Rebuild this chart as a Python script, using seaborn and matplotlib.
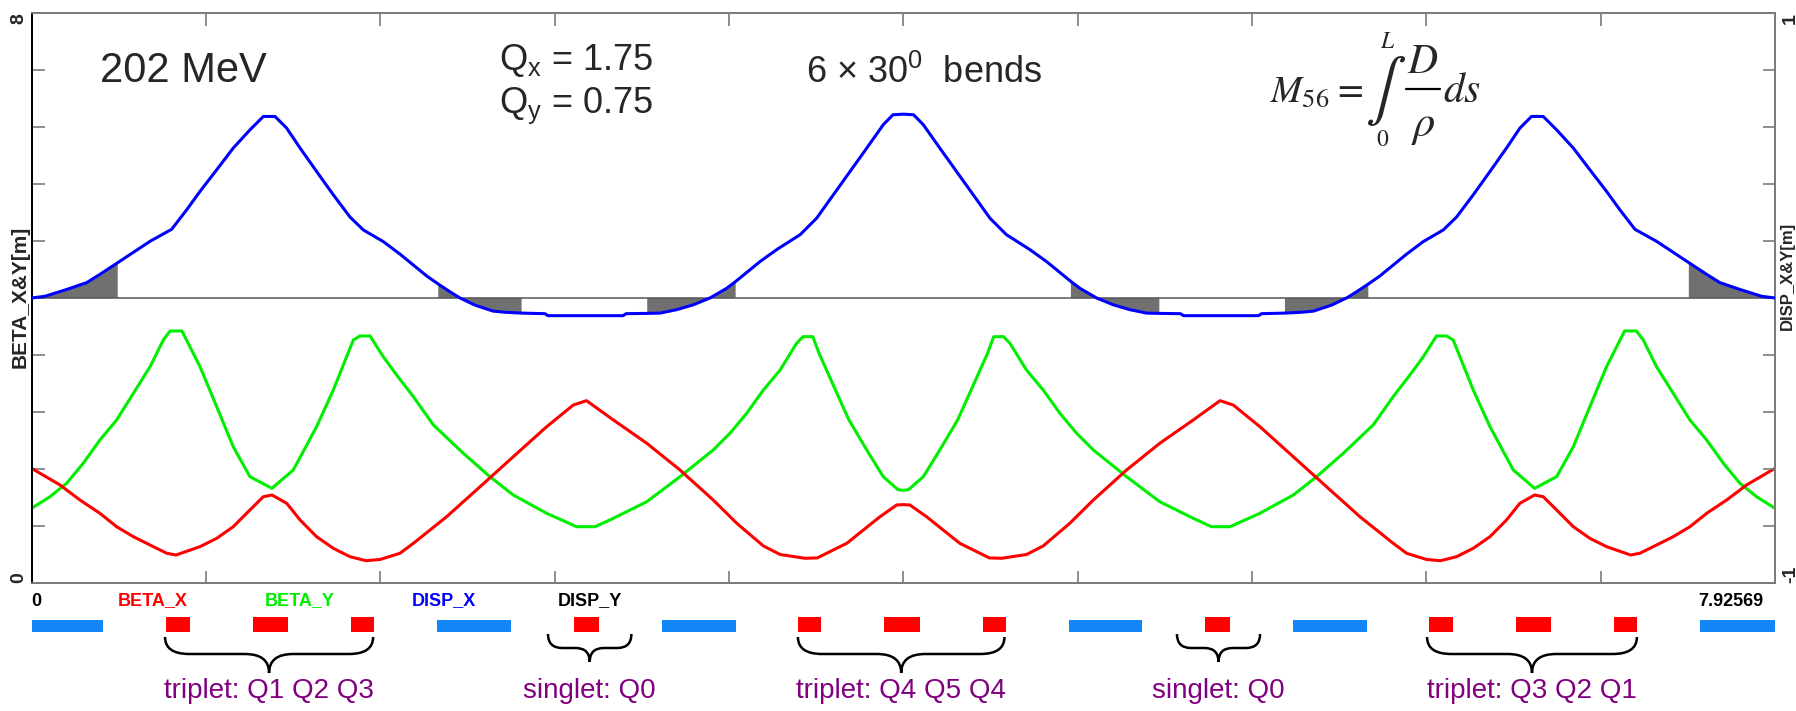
import numpy as np
import matplotlib
matplotlib.use("Agg")
import matplotlib.pyplot as plt
import seaborn as sns
from matplotlib.path import Path
from matplotlib.patches import PathPatch
from matplotlib.lines import Line2D

# ---------------- data ----------------
L_TOTAL = 7.92569

S_DISP = [0.000, 0.061, 0.160, 0.251, 0.311, 0.392, 0.539, 0.637, 0.706, 0.766, 0.842, 0.917,
          0.993, 1.054, 1.107, 1.160, 1.221, 1.296, 1.372, 1.448, 1.508, 1.599, 1.675, 1.797,
          1.849, 1.902, 1.948, 2.016, 2.098, 2.152, 2.228, 2.334, 2.348, 2.689, 2.703, 2.799,
          2.857, 2.933, 3.008, 3.084, 3.160, 3.201, 3.312, 3.388, 3.463, 3.494, 3.569, 3.645,
          3.721, 3.797, 3.872, 3.916, 3.963,
          4.010, 4.054, 4.129, 4.205, 4.281, 4.357, 4.432, 4.463, 4.538, 4.614, 4.725, 4.766,
          4.842, 4.918, 4.993, 5.069, 5.127, 5.223, 5.237, 5.578, 5.592, 5.698, 5.774, 5.828,
          5.910, 5.978, 6.024, 6.077, 6.129, 6.251, 6.327, 6.418, 6.478, 6.554, 6.630, 6.705,
          6.766, 6.819, 6.872, 6.933, 7.009, 7.084, 7.160, 7.220, 7.289, 7.387, 7.534, 7.615,
          7.675, 7.766, 7.865, 7.926]
DISP_X = [0.000, 0.006, 0.030, 0.054, 0.083, 0.124, 0.199, 0.241, 0.310, 0.374, 0.450, 0.526,
          0.590, 0.637, 0.637, 0.596, 0.526, 0.444, 0.362, 0.284, 0.239, 0.198, 0.154, 0.077,
          0.049, 0.022, 0.000, -0.025, -0.046, -0.050, -0.053, -0.055, -0.062, -0.062, -0.055, -0.054,
          -0.053, -0.041, -0.024, 0.000, 0.034, 0.058, 0.128, 0.170, 0.207, 0.222, 0.280, 0.362,
          0.444, 0.526, 0.608, 0.643, 0.645,
          0.643, 0.608, 0.526, 0.444, 0.362, 0.280, 0.222, 0.207, 0.170, 0.128, 0.058, 0.034,
          0.000, -0.024, -0.041, -0.053, -0.054, -0.055, -0.062, -0.062, -0.055, -0.053, -0.050, -0.046,
          -0.025, 0.000, 0.022, 0.049, 0.077, 0.154, 0.198, 0.239, 0.284, 0.362, 0.444, 0.526,
          0.596, 0.637, 0.637, 0.590, 0.526, 0.450, 0.374, 0.310, 0.241, 0.199, 0.124, 0.083,
          0.054, 0.030, 0.006, 0.000]

S_DISP_Y = [0.0, L_TOTAL]
DISP_Y = [0.0, 0.0]

S_BX = [0.000, 0.130, 0.220, 0.311, 0.387, 0.463, 0.539, 0.615, 0.657, 0.766, 0.842, 0.917,
        0.993, 1.054, 1.093, 1.160, 1.221, 1.296, 1.372, 1.448, 1.521, 1.584, 1.675, 1.736,
        1.887, 2.039, 2.190, 2.342, 2.463, 2.523, 2.645, 2.797, 2.948, 3.099, 3.206, 3.327,
        3.403, 3.516, 3.572, 3.706, 3.857, 3.933, 3.963,
        3.993, 4.069, 4.220, 4.354, 4.410, 4.523, 4.599, 4.720, 4.827, 4.978, 5.129, 5.281,
        5.403, 5.463, 5.584, 5.736, 5.887, 6.039, 6.190, 6.251, 6.342, 6.405, 6.478, 6.554,
        6.630, 6.705, 6.766, 6.833, 6.872, 6.933, 7.009, 7.084, 7.160, 7.269, 7.311, 7.387,
        7.463, 7.539, 7.615, 7.706, 7.796, 7.926]
BETA_X = [1.610, 1.375, 1.165, 0.978, 0.790, 0.650, 0.533, 0.417, 0.393, 0.510, 0.627, 0.790,
          1.025, 1.211, 1.235, 1.119, 0.884, 0.650, 0.487, 0.369, 0.313, 0.330, 0.417, 0.557,
          0.930, 1.351, 1.772, 2.194, 2.498, 2.559, 2.288, 1.961, 1.586, 1.165, 0.838, 0.520,
          0.400, 0.347, 0.352, 0.557, 0.930, 1.095, 1.100,
          1.095, 0.930, 0.557, 0.352, 0.347, 0.400, 0.520, 0.838, 1.165, 1.586, 1.961, 2.288,
          2.559, 2.498, 2.194, 1.772, 1.351, 0.930, 0.557, 0.417, 0.330, 0.313, 0.369, 0.487,
          0.650, 0.884, 1.119, 1.235, 1.211, 1.025, 0.790, 0.627, 0.510, 0.393, 0.417, 0.533,
          0.650, 0.790, 0.978, 1.165, 1.375, 1.610]

S_BY = [0.000, 0.084, 0.160, 0.235, 0.311, 0.387, 0.463, 0.539, 0.599, 0.630, 0.684, 0.766,
        0.842, 0.917, 0.993, 1.093, 1.190, 1.296, 1.372, 1.463, 1.493, 1.539, 1.599, 1.660,
        1.736, 1.827, 1.963, 2.084, 2.190, 2.342, 2.478, 2.562, 2.645, 2.797, 2.948, 3.099,
        3.175, 3.251, 3.327, 3.403, 3.478, 3.507, 3.552, 3.580, 3.641, 3.716, 3.797, 3.872,
        3.939, 3.963,
        3.987, 4.054, 4.129, 4.210, 4.285, 4.346, 4.374, 4.419, 4.448, 4.523, 4.599, 4.675,
        4.751, 4.827, 4.978, 5.129, 5.281, 5.364, 5.448, 5.584, 5.736, 5.842, 5.963, 6.099,
        6.190, 6.266, 6.327, 6.387, 6.433, 6.463, 6.554, 6.630, 6.736, 6.833, 6.933, 7.009,
        7.084, 7.160, 7.242, 7.296, 7.327, 7.387, 7.463, 7.539, 7.615, 7.691, 7.766, 7.842,
        7.926]
BETA_Y = [1.048, 1.211, 1.400, 1.680, 2.007, 2.288, 2.662, 3.036, 3.410, 3.537, 3.537, 3.036,
          2.474, 1.913, 1.492, 1.329, 1.586, 2.194, 2.709, 3.410, 3.467, 3.467, 3.176, 2.919,
          2.615, 2.218, 1.820, 1.492, 1.235, 0.978, 0.790, 0.790, 0.908, 1.141, 1.492, 1.867,
          2.101, 2.382, 2.709, 2.989, 3.364, 3.457, 3.457, 3.224, 2.803, 2.288, 1.867, 1.492,
          1.310, 1.300,
          1.310, 1.492, 1.867, 2.288, 2.803, 3.224, 3.457, 3.457, 3.364, 2.989, 2.709, 2.382,
          2.101, 1.867, 1.492, 1.141, 0.908, 0.790, 0.790, 0.978, 1.235, 1.492, 1.820, 2.218,
          2.615, 2.919, 3.176, 3.467, 3.467, 3.410, 2.709, 2.194, 1.586, 1.329, 1.492, 1.913,
          2.474, 3.036, 3.537, 3.537, 3.410, 3.036, 2.662, 2.288, 2.007, 1.680, 1.400, 1.211,
          1.048]

# shaded dipole regions in the dispersion plot
SHADE_START = [0.000, 1.849, 2.799, 4.725, 5.698, 7.534]
SHADE_END = [0.392, 2.228, 3.201, 5.127, 6.077, 7.926]

# lattice diagram
BEND_START = [0.000, 1.845, 2.868, 4.716, 5.735, 7.585]
BEND_END = [0.327, 2.179, 3.203, 5.048, 6.071, 7.926]
QUAD_START = [0.612, 1.005, 1.454, 2.466, 3.484, 3.875, 4.325, 5.335, 6.353, 6.749, 7.195]
QUAD_END = [0.720, 1.167, 1.558, 2.581, 3.589, 4.039, 4.430, 5.448, 6.462, 6.908, 7.298]
GROUP_LABELS = ["triplet: Q1 Q2 Q3", "singlet: Q0", "triplet: Q4 Q5 Q4",
                "singlet: Q0", "triplet: Q3 Q2 Q1"]
GROUP_START = [0.607, 2.348, 3.484, 5.207, 6.344]
GROUP_END = [1.553, 2.727, 4.423, 5.585, 7.298]

SERIES_NAMES = ["BETA_X", "BETA_Y", "DISP_X", "DISP_Y"]
SERIES_POS = [0.552, 1.221, 1.873, 2.537]

# ---------------- styling ----------------
sns.set_style("white")
plt.rcParams["font.family"] = ["Liberation Sans", "DejaVu Sans"]
plt.rcParams["mathtext.fontset"] = "stix"

W, H = 1796, 711
fig = plt.figure(figsize=(W / 100, H / 100), dpi=100)
renderer = fig.canvas.get_renderer()


def fx(px):
    return px / W


def fy(py):
    return 1 - py / H


C_RED, C_GREEN, C_BLUE = "#ff0000", "#00ee00", "#0000ff"
SPINE = "#7a7a7a"

ax = fig.add_axes([fx(31.5), fy(583), (1775 - 31.5) / W, (583 - 13) / H])
ax2 = ax.twinx()
ax.set_xlim(0, L_TOTAL)
ax.set_ylim(0, 8)
ax2.set_ylim(-1, 1)

# dispersion
sns.lineplot(x=S_DISP_Y, y=DISP_Y, ax=ax2, color="#555555", linewidth=1.1, zorder=2)
s_arr = np.asarray(S_DISP)
mask = np.zeros(len(s_arr), dtype=bool)
for a, b in zip(SHADE_START, SHADE_END):
    mask |= (s_arr >= a - 1e-9) & (s_arr <= b + 1e-9)
ax2.fill_between(S_DISP, DISP_X, 0, where=mask, color="#707070", linewidth=0, zorder=1)
sns.lineplot(x=S_DISP, y=DISP_X, ax=ax2, color=C_BLUE, linewidth=2.2,
             estimator=None, sort=False, zorder=3)

# betas
sns.lineplot(x=S_BY, y=BETA_Y, ax=ax, color=C_GREEN, linewidth=2.2, estimator=None, sort=False)
sns.lineplot(x=S_BX, y=BETA_X, ax=ax, color=C_RED, linewidth=2.2, estimator=None, sort=False)

ax.set_xlabel("")
ax.set_ylabel("")
ax2.set_ylabel("")

# ticks
ax.set_xticks(np.linspace(0, L_TOTAL, 11))
ax.set_xticklabels([])
ax.tick_params(axis="x", top=True, bottom=True, direction="in", length=9, width=1.2, color=SPINE)
ax.set_yticks(np.linspace(0, 8, 11))
ax.set_yticklabels(["0"] + [""] * 9 + ["8"], rotation=90, fontweight="bold", fontsize=14)
ax.tick_params(axis="y", direction="in", length=9, width=1.2, color=SPINE, pad=3)
tl = ax.get_yticklabels()
tl[0].set_va("bottom")
tl[-1].set_va("top")
ax2.set_yticks(np.linspace(-1, 1, 11))
ax2.set_yticklabels(["-1"] + [""] * 9 + ["1"], rotation=90, fontweight="bold", fontsize=14)
ax2.tick_params(axis="y", direction="in", length=9, width=1.2, color=SPINE, pad=5)
tl2 = ax2.get_yticklabels()
tl2[0].set_va("bottom")
tl2[-1].set_va("top")

for a_ in (ax, ax2):
    for side, sp in a_.spines.items():
        sp.set_color(SPINE)
        sp.set_linewidth(1.3)
        sp.set_visible(True)
ax.spines["left"].set_color("black")
ax2.spines["left"].set_color("black")

# axis titles
fig.text(fx(20.5), fy(297), "BETA_X&Y[m]", rotation=90, ha="center", va="center",
         fontsize=15, fontweight="bold")
fig.text(fx(1795), fy(276), "DISP_X&Y[m]", rotation=90, ha="right", va="center",
         fontsize=12, fontweight="bold")

# annotations
fig.text(fx(100), fy(82), "202 MeV", fontsize=30, va="baseline", ha="left")
fig.text(fx(499), fy(70), r"$\mathregular{Q_x}$ = 1.75", fontsize=26, va="baseline", ha="left")
fig.text(fx(499), fy(113), r"$\mathregular{Q_y}$ = 0.75", fontsize=26, va="baseline", ha="left")
fig.text(fx(806), fy(83), r"6 × 30$\mathregular{^0}$  bends", fontsize=26, va="baseline", ha="left")

# M56 formula, laid out piece by piece so the pieces do not collide
x_cur = 1270
t_m = fig.text(fx(x_cur), fy(102), r"$M_{56}$", fontsize=27, va="baseline", ha="left")
x_cur = t_m.get_window_extent(renderer).x1 + 3
t_eq = fig.text(fx(x_cur), fy(100), r"$=$", fontsize=27, va="baseline", ha="left")
x_cur = t_eq.get_window_extent(renderer).x1 + 1
t_int = fig.text(fx(x_cur), fy(91), r"$\int$", fontsize=44, va="center", ha="left")
bb_int = t_int.get_window_extent(renderer)
xc_int = 0.5 * (bb_int.x0 + bb_int.x1)
fig.text(fx(xc_int + 3), (bb_int.y1 + 1) / H, r"$L$", fontsize=17, va="bottom", ha="center")
fig.text(fx(xc_int - 2), (bb_int.y0 - 1) / H, r"$0$", fontsize=17, va="top", ha="center")
x_cur = bb_int.x1 + 1
t_d = fig.text(fx(x_cur), fy(73), r"$D$", fontsize=30, va="baseline", ha="left")
bb_d = t_d.get_window_extent(renderer)
xc_d = 0.5 * (bb_d.x0 + bb_d.x1)
fig.add_artist(Line2D([fx(bb_d.x0 - 1), fx(bb_d.x1 + 2)], [fy(89), fy(89)], lw=1.6,
                      color="black", transform=fig.transFigure))
fig.text(fx(xc_d + 1), fy(106), r"$\rho$", fontsize=32, va="top", ha="center")
fig.text(fx(bb_d.x1 + 5), fy(102), r"$ds$", fontsize=30, va="baseline", ha="left")

# ---------------- lattice diagram ----------------
axe = fig.add_axes([fx(31.5), 0, (1775 - 31.5) / W, (711 - 583) / H])
axe.set_xlim(0, L_TOTAL)
axe.set_ylim(711, 583)
axe.axis("off")

bs, be = np.asarray(BEND_START), np.asarray(BEND_END)
axe.bar(x=bs, height=12, width=be - bs, bottom=620, align="edge", color="#1286f5", linewidth=0)
qs, qe = np.asarray(QUAD_START), np.asarray(QUAD_END)
axe.bar(x=qs, height=15, width=qe - qs, bottom=616.5, align="edge", color=C_RED, linewidth=0)

axe.text(0.0, 601, "0", ha="left", va="center", fontsize=13, fontweight="bold", color="black")
axe.text(L_TOTAL - 0.055, 601, f"{L_TOTAL}", ha="right", va="center", fontsize=13,
         fontweight="bold", color="black")
for name, pos, col in zip(SERIES_NAMES, SERIES_POS, [C_RED, C_GREEN, C_BLUE, "black"]):
    axe.text(pos, 601, name, ha="center", va="center", fontsize=13, fontweight="bold", color=col)


def brace(a, b):
    narrow = (b - a) < 0.6
    y0, y1, y2 = (634, 648, 662) if narrow else (637, 654, 673)
    r = min(0.11, (b - a) * 0.17)
    m = (a + b) / 2
    verts = [(a, y0), (a, y1), (a + r, y1), (m - r, y1), (m, y1), (m, y2),
             (m, y1), (m + r, y1), (b - r, y1), (b, y1), (b, y0)]
    codes = [Path.MOVETO, Path.CURVE3, Path.CURVE3, Path.LINETO, Path.CURVE3, Path.CURVE3,
             Path.CURVE3, Path.CURVE3, Path.LINETO, Path.CURVE3, Path.CURVE3]
    axe.add_patch(PathPatch(Path(verts, codes), fill=False, lw=1.8, edgecolor="black",
                            clip_on=False))
    return m


for lab, a, b in zip(GROUP_LABELS, GROUP_START, GROUP_END):
    m = brace(a, b)
    axe.text(m, 678, lab, ha="center", va="top", fontsize=20, color="#800080")

fig.savefig("out.png", dpi=100)
